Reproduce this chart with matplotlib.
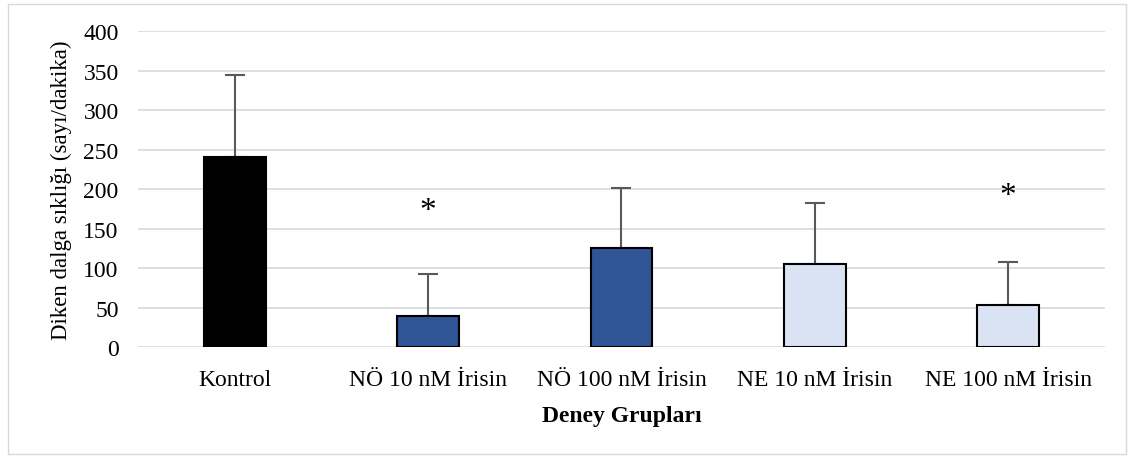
import numpy as np
import matplotlib.pyplot as plt
from matplotlib.patches import Rectangle

plt.rcParams['font.family'] = ['Liberation Serif', 'DejaVu Serif']

# veriler
groups = ['Kontrol', 'NÖ 10 nM İrisin', 'NÖ 100 nM İrisin', 'NE 10 nM İrisin', 'NE 100 nM İrisin']
means = [241, 39, 125, 105, 53]
errors = [103, 54, 77, 77, 55]
colors = ['#000000', '#2F5597', '#2F5597', '#DAE3F3', '#DAE3F3']
star_groups = [1, 4]
star_y = [172, 191]

fig = plt.figure(figsize=(11.32, 4.6), dpi=100)
ax = fig.add_axes([0.122, 0.2435, 0.854, 0.6865])

x = np.arange(len(groups))
ax.bar(x, means, width=0.32, color=colors, edgecolor='black', linewidth=1.5, zorder=3)
ax.errorbar(x, means, yerr=[np.zeros(len(errors)), errors], fmt='none',
            ecolor='#595959', elinewidth=1.5, capsize=7, capthick=1.5, zorder=2)

for i, yy in zip(star_groups, star_y):
    ax.text(x[i], yy, '*', ha='center', va='center', fontsize=24)

ax.set_xlim(-0.5, len(groups) - 0.5)
ax.set_ylim(0, 400)
ax.set_yticks(np.arange(0, 401, 50))
ax.set_xticks(x)
ax.set_xticklabels(groups)
ax.tick_params(length=0, labelsize=17)
ax.tick_params(axis='x', pad=16)
ax.tick_params(axis='y', pad=14)
ax.yaxis.grid(True, color='#D9D9D9', linewidth=1.2, zorder=0)
ax.set_axisbelow(True)
for s in ax.spines.values():
    s.set_visible(False)

ax.set_ylabel('Diken dalga sıklığı (sayı/dakika)', fontsize=16.5, labelpad=8)
ax.set_xlabel('Deney Grupları', fontsize=17, fontweight='bold', labelpad=11)

# dış çerçeve
fig.patches.append(Rectangle((0.007, 0.01), 0.988, 0.98, transform=fig.transFigure,
                             fill=False, edgecolor='#D9D9D9', linewidth=1))

fig.savefig('out.png', dpi=100)
